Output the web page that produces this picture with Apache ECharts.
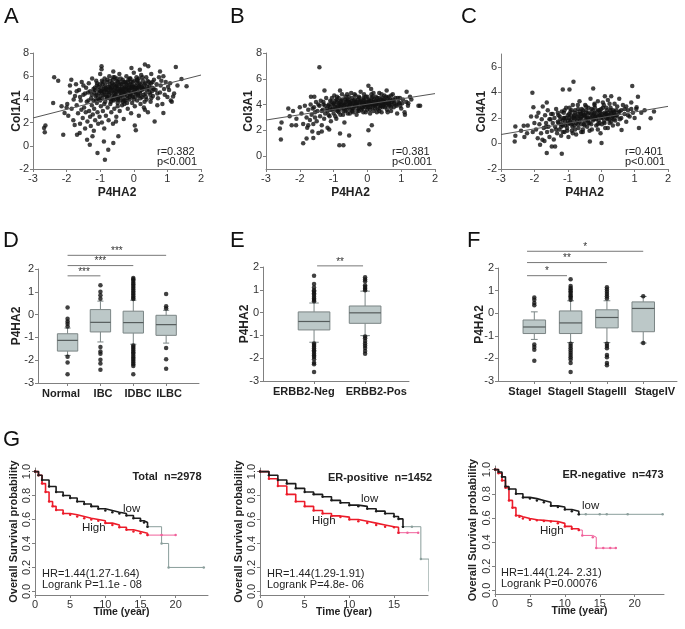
<!DOCTYPE html>
<html><head><meta charset="utf-8">
<script src="https://cdn.jsdelivr.net/npm/echarts@6/dist/echarts.min.js"></script>
<style>html,body{margin:0;padding:0;background:#fff}#c{width:685px;height:629px}</style>
</head><body><div id="c"></div>
<script>
// ---------------- DATA ----------------
const scatterA = [[-2.67,1.53],[-2.63,1.74],[-2.65,1.16],[-2.4,3.7],[-2.37,5.9],[-2.25,5.6],[-2.15,3.4],[-2.1,0.96],[-2.06,2.83],[-1.98,3.6],[-2.0,3.3],[-1.9,5.2],[-1.86,5.7],[-1.79,4.0],[-1.76,1.8],[-1.69,0.96],[-1.61,1.1],[-1.56,3.1],[-1.39,0.53],[-1.31,0.1],[-1.23,0.82],[-1.08,-0.62],[-0.89,0.38],[-0.86,-1.2],[-0.76,-0.33],[-0.61,0.24],[-0.46,0.82],[-0.53,2.1],[0.03,1.74],[0.06,1.33],[0.33,3.1],[0.88,2.83],[1.17,4.26],[1.13,3.8],[1.25,6.8],[1.42,5.76],[1.57,5.13],[1.08,5.4],[0.88,6.0],[0.78,6.4],[0.33,7.0],[0.43,6.85],[0.18,6.56],[-0.07,6.7],[-0.96,6.85],[-0.96,6.6],[-0.61,6.4],
[-1.95,2.6],[-1.9,4.6],[-1.85,3.2],[-1.8,2.2],[-1.75,4.3],[-1.72,5.3],[-1.7,3.5],[-1.66,2.8],[-1.63,4.8],[-1.6,1.9],[-1.58,3.9],[-1.55,5.5],[-1.52,2.4],[-1.5,4.4],[-1.48,3.3],[-1.45,1.5],[-1.43,2.9],[-1.42,5.0],[-1.4,3.8],[-1.38,2.1],[-1.36,4.6],[-1.34,5.4],[-1.33,3.0],[-1.3,2.5],[-1.28,1.7],[-1.27,4.1],[-1.25,3.5],[-1.24,5.8],[-1.22,2.7],[-1.2,4.9],[-1.19,1.3],[-1.18,3.2],[-1.15,2.2],[-1.14,4.3],[-1.12,5.6],[-1.1,3.7],[-1.08,2.9],[-1.06,1.9],[-1.05,5.1],[-1.03,4.0],[-1.02,2.5],[-1.0,6.2],[-0.98,3.4],[-0.97,4.7],[-0.95,2.0],[-0.93,5.3],[-0.92,3.0],[-0.9,4.4],[-0.88,1.5],[-0.87,5.8],[-0.85,3.8],[-0.83,2.6],[-0.82,4.9],[-0.8,5.5],[-0.78,3.3],[-0.77,4.2],[-0.75,2.2],[-0.73,6.0],[-0.72,5.0],[-0.7,3.6],[-0.68,4.6],[-0.67,2.9],[-0.65,5.4],[-0.63,4.0],[-0.62,1.9],[-0.6,4.8],[-0.58,3.2],[-0.57,5.9],[-0.55,4.4],[-0.53,5.1],[-0.52,2.5],[-0.5,4.7],[-0.48,3.7],[-0.47,5.5],[-0.45,4.2],[-0.43,6.2],[-0.42,3.0],[-0.4,4.9],[-0.38,5.3],[-0.37,4.5],[-0.35,3.5],[-0.33,5.7],[-0.32,4.1],[-0.3,2.3],[-0.28,5.0],[-0.27,4.6],[-0.25,3.9],[-0.23,5.4],[-0.22,6.0],[-0.2,4.3],[-0.18,3.2],[-0.17,4.8],[-0.15,5.2],[-0.13,4.0],[-0.12,5.8],[-0.1,4.5],[-0.08,2.8],[-0.07,5.0],[-0.05,3.7],[-0.03,5.5],[-0.02,4.2],[0.0,6.3],[0.02,4.8],[0.03,3.4],[0.05,5.2],[0.07,4.5],[0.08,5.9],[0.1,3.9],[0.12,5.0],[0.13,4.4],[0.15,2.6],[0.17,5.4],[0.18,4.7],[0.2,3.6],[0.22,6.1],[0.23,5.1],[0.25,4.2],[0.27,5.6],[0.28,4.9],[0.3,3.3],[0.32,5.3],[0.35,4.5],[0.37,5.9],[0.38,4.0],[0.4,5.1],[0.42,2.9],[0.45,5.5],[0.47,4.6],[0.5,3.8],[0.52,6.2],[0.55,5.0],[0.57,4.3],[0.6,5.7],[0.62,2.1],[0.65,4.8],[0.68,5.3],[0.7,3.5],[0.72,4.1],[0.75,5.9],[0.78,4.6],[0.8,5.2],[0.85,3.6],[0.9,4.9],[0.95,5.5],[1.0,4.2],[1.05,4.8],[1.1,3.9],[1.2,4.5],[1.3,5.2],
[-0.9,4.9],[-0.85,5.2],[-0.8,4.6],[-0.75,5.1],[-0.7,4.9],[-0.65,4.3],[-0.6,5.3],[-0.55,4.7],[-0.5,5.2],[-0.45,4.6],[-0.4,4.3],[-0.35,5.0],[-0.3,4.7],[-0.25,5.1],[-0.2,4.9],[-0.15,4.6],[-0.1,5.3],[-0.05,4.8],[0.0,5.1],[0.05,4.6],[0.1,5.4],[-0.62,5.7],[-0.52,4.0],[-0.42,5.5],[-0.32,3.8],[-0.12,4.2],[0.15,5.8],[0.25,5.0],[-1.05,4.5],[-1.15,4.8],[-0.95,5.6],[-1.0,3.9],[-1.25,4.4],[-1.1,5.2],[-0.58,4.5],[-0.48,4.1],[-0.38,4.8],[-0.28,4.4],[-0.18,5.5],[-0.08,5.0],
[-1.18,4.6],[-1.16,5.0],[-1.13,3.9],[-1.11,4.4],[-1.09,5.4],[-1.07,4.1],[-1.04,4.8],[-1.01,5.3],[-0.99,4.3],[-0.96,5.0],[-0.94,4.1],[-0.91,5.5],[-0.89,4.7],[-0.86,4.4],[-0.84,5.0],[-0.81,4.2],[-0.79,5.7],[-0.76,4.8],[-0.74,4.4],[-0.71,5.3],[-0.69,4.0],[-0.66,5.0],[-0.64,4.7],[-0.61,5.9],[-0.59,4.2],[-0.56,5.0],[-0.54,4.4],[-0.51,5.6],[-0.49,4.9],[-0.46,4.0],[-0.44,5.2],[-0.41,4.7],[-0.39,5.8],[-0.36,4.4],[-0.34,5.3],[-0.31,4.9],[-0.29,3.9],[-0.26,5.5],[-0.24,4.5],[-0.21,5.2],[-0.19,4.1],[-0.16,5.7],[-0.14,4.8],[-0.11,4.4],[-0.09,5.5],[-0.06,4.3],[-0.04,5.1],[-0.01,4.6],[0.01,5.6],[0.04,4.2],[0.06,5.0],[0.09,4.8],[0.11,5.6],[0.14,4.3],[0.16,5.1],[0.19,4.5],[0.21,5.3],[0.24,4.8],[0.26,5.9],[0.29,4.4],[0.31,5.0],[0.34,5.4],[0.36,4.2],[0.39,4.8],[0.41,5.6],[0.44,4.9],[0.46,5.2],[0.49,4.4],[0.51,5.4],[0.54,4.7],[0.56,5.5],[0.59,4.9],[-0.95,4.6],[-0.85,4.8],[-0.75,4.6],[-0.65,5.1],[-0.55,5.3],[-0.45,4.9],[-0.35,4.7],[-0.25,4.8],[-0.15,5.0],[-0.05,5.2],[0.05,4.9],[0.15,5.1],[-0.7,5.6],[-0.5,5.8],[-0.3,5.5],[-0.1,5.8],[0.1,5.7],[-0.8,4.1],[-0.6,3.9],[-0.4,3.9],[-0.2,3.7],[0.0,4.0],[0.2,4.1],[-1.2,3.9],[-1.0,4.7],[-0.88,3.6],[-0.68,3.8],[-0.48,3.4],[-0.28,3.6],[0.32,3.8],[0.52,4.1],[0.7,4.5],[0.82,5.6],[0.92,4.4],[1.02,5.1],[-1.3,4.7],[-1.35,3.9],[-1.45,4.5],[-1.5,5.2],[-1.6,4.2],[-1.7,4.7]];
const fitA = [[-3,2.4],[2,6.1]];

const scatterB = [[-1.42,6.9],[-2.56,1.28],[-2.59,2.14],[-2.54,2.6],[-2.34,3.7],[-2.24,2.4],[-2.11,2.4],[-1.9,1.0],[-1.8,1.36],[-1.75,2.4],[-1.63,1.9],[-1.6,1.4],[-1.67,4.6],[-1.57,4.6],[-1.27,5.1],[-1.35,1.9],[-1.13,2.06],[-0.81,1.75],[-0.83,0.84],[-0.71,0.84],[-0.54,1.6],[-0.81,5.1],[0.03,5.45],[0.11,5.2],[0.06,0.92],[0.03,2.0],[0.13,2.4],[0.57,5.1],[1.11,3.2],[1.21,4.1],[1.26,4.6],[1.51,3.9],[1.56,3.9],[1.16,5.0],[0.96,4.5],
[-2.3,3.1],[-2.2,3.5],[-2.1,2.9],[-2.0,3.8],[-1.95,3.3],[-1.9,2.5],[-1.85,3.9],[-1.8,3.0],[-1.78,2.2],[-1.75,3.6],[-1.7,2.8],[-1.68,4.0],[-1.65,3.2],[-1.6,2.5],[-1.58,3.8],[-1.55,3.0],[-1.52,4.2],[-1.5,2.7],[-1.48,3.5],[-1.45,1.8],[-1.42,3.9],[-1.4,3.1],[-1.38,4.3],[-1.35,2.4],[-1.32,3.6],[-1.3,4.0],[-1.28,2.9],[-1.25,3.3],[-1.22,4.5],[-1.2,3.7],[-1.18,2.2],[-1.15,3.9],[-1.12,3.1],[-1.1,4.3],[-1.08,2.7],[-1.05,3.6],[-1.02,4.0],[-1.0,3.3],[-0.98,4.7],[-0.95,3.8],[-0.92,2.9],[-0.9,4.2],[-0.88,3.5],[-0.85,4.5],[-0.82,3.9],[-0.8,3.2],[-0.78,4.3],[-0.75,4.8],[-0.72,3.7],[-0.7,4.1],[-0.68,2.6],[-0.65,4.4],[-0.62,3.8],[-0.6,4.0],[-0.58,3.3],[-0.55,4.6],[-0.52,4.2],[-0.5,3.6],[-0.48,4.9],[-0.45,4.0],[-0.42,3.4],[-0.4,4.3],[-0.38,3.9],[-0.35,4.7],[-0.32,4.1],[-0.3,3.5],[-0.28,4.4],[-0.25,3.8],[-0.22,4.2],[-0.2,5.0],[-0.18,3.6],[-0.15,4.0],[-0.12,4.5],[-0.1,3.9],[-0.08,4.3],[-0.05,3.4],[-0.02,4.1],[0.0,4.6],[0.02,3.8],[0.05,4.3],[0.08,3.6],[0.1,4.0],[0.12,4.8],[0.15,4.2],[0.18,3.5],[0.2,4.4],[0.22,3.9],[0.25,4.6],[0.28,4.1],[0.3,3.7],[0.32,4.3],[0.35,4.9],[0.38,3.9],[0.4,4.2],[0.42,3.4],[0.45,4.5],[0.48,4.0],[0.5,4.7],[0.52,3.8],[0.55,4.3],[0.58,3.6],[0.6,4.1],[0.63,4.6],[0.65,3.9],[0.68,4.4],[0.7,3.5],[0.72,4.2],[0.75,4.8],[0.78,3.8],[0.8,4.3],[0.85,4.0],[0.88,3.3],[0.9,4.5],[0.95,4.1],[1.0,3.7],[1.05,4.4],[1.1,3.4],[1.15,4.2],[1.2,3.9],[1.3,4.4],
[-0.9,3.8],[-0.8,4.0],[-0.7,3.9],[-0.6,4.3],[-0.5,4.1],[-0.4,3.7],[-0.3,4.0],[-0.2,4.3],[-0.1,4.1],[0.0,3.9],[0.1,4.3],[0.2,4.0],[0.3,4.2],[0.4,3.9],[0.5,4.2],[-0.65,3.5],[-0.45,4.5],[-0.25,3.5],[-0.05,4.6],[0.15,3.8],[0.35,4.5],[-1.0,4.1],[-1.1,3.8],[-0.85,4.1],[-0.55,3.9],[-0.35,4.2],[-0.15,3.8],[0.05,4.0],[0.25,4.3],[0.45,3.8],
[-1.18,3.5],[-1.14,4.0],[-1.1,3.6],[-1.06,4.2],[-1.02,3.7],[-0.98,4.0],[-0.94,3.6],[-0.91,4.4],[-0.87,3.9],[-0.84,3.6],[-0.8,4.2],[-0.77,3.8],[-0.74,4.4],[-0.71,3.5],[-0.67,4.0],[-0.64,4.2],[-0.61,3.6],[-0.57,4.4],[-0.54,3.8],[-0.51,4.0],[-0.47,4.3],[-0.44,3.7],[-0.41,4.1],[-0.37,4.4],[-0.34,3.9],[-0.31,4.2],[-0.27,3.7],[-0.24,4.5],[-0.21,4.0],[-0.17,4.2],[-0.14,3.7],[-0.11,4.4],[-0.07,4.0],[-0.04,4.2],[-0.01,3.6],[0.03,4.4],[0.06,4.1],[0.09,3.8],[0.13,4.5],[0.16,4.0],[0.19,4.2],[0.23,3.7],[0.26,4.0],[0.29,4.5],[0.33,4.0],[0.36,3.7],[0.39,4.4],[0.43,4.1],[0.46,3.9],[0.49,4.4],[0.53,4.1],[0.56,3.9],[0.59,4.5],[0.63,4.1],[0.66,4.3],[0.69,3.8],[0.73,4.0],[0.76,4.4],[0.79,4.1],[0.83,4.5],[0.86,3.9],[0.92,4.2],[0.97,3.9],[1.03,4.1],[-0.95,4.3],[-0.75,4.0],[-0.55,4.2],[-0.35,4.0],[-0.15,4.1],[0.05,4.2],[0.25,4.0],[0.45,4.3],[0.65,4.0],[-0.85,3.4],[-0.65,4.6],[-0.45,3.5],[-0.25,4.6],[-0.05,3.8],[0.15,4.6],[0.35,3.5],[0.55,4.6],[-1.25,3.9],[-1.35,3.5],[-1.45,4.0],[-1.15,3.2],[-0.95,3.1],[-0.72,3.2],[-0.52,3.3],[-0.32,3.2],[-0.12,3.4],[0.08,3.3],[0.28,3.4],[0.6,3.4],[-0.9,4.6],[-0.6,4.8],[-0.38,4.8],[-0.1,4.8],[0.18,4.9],[0.42,4.8],[0.7,4.7],[-1.05,4.5],[-1.3,4.2],[-1.55,3.4],[-1.62,3.7]];
const fitB = [[-3,2.8],[2,4.85]];

const scatterC = [[-2.59,0.16],[-2.57,1.32],[-2.57,0.6],[-2.32,1.38],[-2.22,0.8],[-2.06,3.97],[-2.03,2.83],[-1.93,2.1],[-1.83,-0.1],[-1.76,0.29],[-1.63,-0.75],[-1.63,3.2],[-1.48,-0.23],[-1.38,-0.23],[-1.18,-0.8],[-1.15,4.23],[-0.95,4.23],[-0.83,4.83],[-0.24,4.3],[0.11,3.7],[0.54,3.5],[0.93,4.5],[1.1,3.66],[1.13,1.2],[1.48,1.97],[1.58,2.5],[1.06,2.83],[-0.34,0.16],[0.01,0.03],[0.61,1.06],
[-2.4,1.0],[-2.3,0.5],[-2.2,1.4],[-2.1,2.1],[-2.05,0.9],[-2.0,1.6],[-1.95,1.1],[-1.9,0.4],[-1.88,2.4],[-1.85,1.5],[-1.8,0.8],[-1.78,1.9],[-1.75,2.9],[-1.72,1.2],[-1.7,0.2],[-1.68,2.2],[-1.65,1.6],[-1.62,0.9],[-1.6,2.6],[-1.58,1.3],[-1.55,0.5],[-1.52,1.9],[-1.5,2.3],[-1.48,1.0],[-1.45,1.6],[-1.42,0.3],[-1.4,2.0],[-1.38,1.3],[-1.35,2.7],[-1.32,0.8],[-1.3,1.7],[-1.28,2.2],[-1.25,1.1],[-1.22,1.9],[-1.2,0.6],[-1.18,2.5],[-1.15,1.4],[-1.12,2.0],[-1.1,0.9],[-1.08,1.7],[-1.05,2.8],[-1.02,1.2],[-1.0,2.2],[-0.98,0.5],[-0.95,1.6],[-0.92,2.5],[-0.9,1.9],[-0.88,1.0],[-0.85,3.0],[-0.82,2.1],[-0.8,1.4],[-0.78,2.6],[-0.75,0.7],[-0.72,1.8],[-0.7,2.3],[-0.68,1.2],[-0.65,3.3],[-0.62,2.0],[-0.6,1.5],[-0.58,2.7],[-0.55,0.9],[-0.52,2.2],[-0.5,1.7],[-0.48,3.0],[-0.45,2.4],[-0.42,1.3],[-0.4,2.0],[-0.38,2.8],[-0.35,1.6],[-0.32,3.5],[-0.3,2.3],[-0.28,1.1],[-0.25,2.6],[-0.22,1.9],[-0.2,3.1],[-0.18,2.1],[-0.15,1.4],[-0.12,2.5],[-0.1,3.3],[-0.08,1.8],[-0.05,2.2],[-0.02,0.8],[0.0,2.7],[0.02,1.5],[0.05,2.0],[0.08,3.0],[0.1,2.4],[0.12,1.2],[0.15,2.8],[0.18,1.9],[0.2,3.4],[0.22,2.2],[0.25,1.6],[0.28,2.6],[0.3,3.7],[0.32,2.0],[0.35,1.4],[0.38,2.4],[0.4,3.1],[0.42,1.8],[0.45,2.2],[0.48,2.9],[0.5,1.5],[0.55,2.5],[0.6,2.0],[0.65,3.0],[0.7,2.3],[0.75,1.7],[0.8,2.6],[0.85,2.1],[0.9,3.2],[0.95,2.4],[1.0,2.0],[1.05,2.7],[1.2,2.4],[1.3,2.6],
[-1.0,1.8],[-0.9,2.2],[-0.8,1.9],[-0.7,2.0],[-0.6,2.3],[-0.5,2.1],[-0.4,1.8],[-0.3,2.0],[-0.2,2.4],[-0.1,2.1],[0.0,2.0],[0.1,2.2],[0.2,2.0],[0.3,2.4],[-0.85,1.6],[-0.65,2.5],[-0.45,1.9],[-0.25,2.2],[-0.05,2.6],[0.15,2.3],[0.35,2.1],[-1.2,1.5],[-1.1,2.0],[-0.95,2.0],[-0.55,2.4],
[-1.28,1.6],[-1.24,2.1],[-1.2,1.3],[-1.16,1.8],[-1.12,2.4],[-1.08,1.4],[-1.04,2.0],[-1.0,1.5],[-0.96,2.3],[-0.93,1.7],[-0.89,2.6],[-0.86,1.3],[-0.82,2.0],[-0.79,2.4],[-0.75,1.6],[-0.72,2.1],[-0.69,2.7],[-0.65,1.7],[-0.62,2.3],[-0.59,1.9],[-0.55,2.6],[-0.52,1.5],[-0.49,2.2],[-0.45,2.6],[-0.42,2.0],[-0.39,1.6],[-0.35,2.4],[-0.32,2.0],[-0.29,2.7],[-0.25,1.8],[-0.22,2.3],[-0.19,2.8],[-0.15,1.9],[-0.12,2.2],[-0.09,2.6],[-0.05,1.6],[-0.02,2.4],[0.01,2.1],[0.05,2.8],[0.08,1.7],[0.11,2.3],[0.15,2.0],[0.18,2.6],[0.21,2.2],[0.25,1.9],[0.28,2.8],[0.31,2.3],[0.35,2.6],[0.38,1.9],[0.41,2.2],[0.45,2.6],[0.48,2.1],[0.52,2.4],[0.56,1.9],[0.6,2.6],[-0.9,1.5],[-0.7,1.5],[-0.5,1.4],[-0.3,1.5],[-0.1,1.5],[0.1,1.6],[0.3,1.7],[-0.8,2.2],[-0.6,2.1],[-0.4,2.3],[-0.2,2.0],[0.0,2.3],[0.2,2.4],[0.4,2.5],[-1.1,2.6],[-0.95,2.8],[-0.7,3.0],[-0.45,2.9],[-0.2,3.0],[0.05,3.2],[0.25,3.1],[-1.35,1.1],[-1.15,0.9],[-0.85,0.8],[-0.6,0.9],[-0.35,1.0],[-0.1,1.1],[0.2,1.2],[-1.45,2.3],[-1.55,1.9],[-1.3,2.4],[-1.65,1.3],[0.7,2.7],[0.8,2.2],[0.9,2.7],[0.75,2.9],[-0.55,1.1],[-0.78,1.1],[-1.02,1.0]];
const fitC = [[-3,0.7],[2,2.9]];

// Box plots: [whiskerLow, Q1, median, Q3, whiskerHigh]
const catsD = ['Normal','IBC','IDBC','ILBC'];
const boxD = [[-1.79,-1.6,-1.13,-0.84,-0.59],[-1.2,-0.76,-0.34,0.22,0.59],[-1.3,-0.81,-0.35,0.15,0.63],[-1.25,-0.91,-0.44,-0.03,0.19]];
const outD = [[0.31,-0.18,-0.3,-0.4,-0.52,-1.85,-2.1,-2.62],
              [1.29,1.0,0.85,0.7,-1.42,-1.62,-1.72,-1.98,-2.15,-2.42],
              [1.6,1.55,1.48,1.4,1.33,1.25,1.18,1.1,1.02,0.95,0.88,0.8,0.73,0.68,-1.35,-1.42,-1.5,-1.58,-1.65,-1.72,-1.8,-1.88,-1.95,-2.02,-2.1,-2.18,-2.25,-2.62],
              [0.9,0.37,0.27,-1.47,-1.96,-2.37]];
const sigD = [[1,4,2.6,'***'],[1,3,2.15,'***'],[1,2,1.7,'***']];

const catsE = ['ERBB2-Neg','ERBB2-Pos'];
const boxE = [[-1.3,-0.76,-0.39,0.03,0.42],[-1.01,-0.47,-0.01,0.29,0.94]];
const outE = [[1.62,1.25,1.1,0.98,0.92,0.85,0.78,0.7,0.62,0.55,0.5,-1.35,-1.42,-1.5,-1.58,-1.65,-1.72,-1.8,-1.88,-1.95,-2.05,-2.2,-2.27,-2.6],
              [1.55,1.45,1.38,1.2,1.12,1.05,0.98,-1.05,-1.12,-1.25,-1.35,-1.45,-1.55,-1.68,-1.8]];
const sigE = [[1.06,1.96,2.05,'**']];

const catsF = ['StageI','StageII','StageIII','StageIV'];
const boxF = [[-1.16,-0.9,-0.61,-0.3,0.06],[-1.3,-0.9,-0.43,0.1,0.55],[-1.3,-0.65,-0.19,0.15,0.55],[-1.32,-0.82,0.21,0.5,0.74]];
const outF = [[0.7,0.6,0.45,0.35,-1.38,-1.5,-1.62,-2.1],
              [1.5,1.2,1.12,1.05,0.97,0.9,0.82,0.75,0.68,0.6,-1.35,-1.45,-1.55,-1.65,-1.75,-1.85,-1.95,-2.05,-2.2,-2.6],
              [1.15,1.05,0.95,0.85,0.75,0.65,-1.35,-1.45,-1.55,-1.85,-1.95,-2.2,-2.3],
              [0.75,-1.32]];
const sigF = [[0.8,4,2.74,'*'],[0.8,3,2.24,'**'],[0.8,1.9,1.66,'*']];

// Kaplan-Meier curves [time (year), survival]
const g1Low  = [[0,1],[0.5,0.97],[1,0.93],[2,0.875],[3,0.83],[4,0.8],[5,0.78],[6,0.75],[7,0.73],[8,0.71],[9,0.69],[10,0.675],[11,0.66],[12,0.65],[13,0.633],[14,0.61],[15,0.59],[15.5,0.575],[16,0.54]];
const g1LowTail = [[16,0.54],[18,0.4],[19,0.2],[24,0.2]];
const g1High = [[0,1],[0.5,0.97],[1,0.9],[1.5,0.83],[2,0.75],[2.5,0.71],[3,0.68],[4,0.65],[5,0.64],[6,0.625],[7,0.61],[8,0.6],[9,0.59],[10,0.57],[11,0.555],[12,0.535],[13,0.515],[14,0.5],[15,0.486],[16,0.47]];
const g1HighTail = [[16,0.47],[18,0.47],[20,0.47]];
const g2Low  = [[0,1],[1,0.97],[2,0.93],[3,0.9],[4,0.86],[5,0.83],[6,0.81],[7,0.79],[8,0.76],[9,0.74],[10,0.72],[11,0.71],[12,0.69],[13,0.67],[14,0.65],[15,0.625],[15.5,0.605],[16,0.54]];
const g2LowTail = [[16,0.54],[17,0.54],[18,0.27],[18.9,0]];
const g2High = [[0,1],[1,0.94],[2,0.88],[3,0.81],[4,0.75],[5,0.71],[6,0.675],[7,0.65],[8,0.63],[9,0.62],[10,0.6],[11,0.585],[12,0.57],[13,0.555],[14,0.54],[15,0.535],[15.5,0.49]];
const g2HighTail = [[15.5,0.49],[16.5,0.49],[17.7,0.49]];
const g3Low  = [[0,1],[0.5,0.98],[1,0.94],[1.5,0.86],[2,0.84],[3,0.8],[4,0.77],[5,0.76],[6,0.745],[7,0.73],[8,0.7],[9,0.69],[10,0.67],[11,0.655],[12,0.63]];
const g3LowTail = [[12,0.63],[13,0.63],[15,0.63],[16,0.63],[19,0.63],[24,0.63]];
const g3High = [[0,1],[0.5,0.97],[1,0.91],[1.5,0.85],[2,0.745],[2.5,0.685],[3,0.62],[3.5,0.61],[4,0.595],[5,0.585],[6,0.58],[7,0.575],[8,0.57],[9,0.555],[10,0.53],[11,0.51],[12,0.5]];
const g3HighTail = [[12,0.5],[12.5,0.455],[14,0.44],[14.5,0.35],[15.5,0.35],[16.5,0.35],[17.3,0.35]];

const gTitles = ['Total  n=2978','ER-positive  n=1452','ER-negative  n=473'];
const gHR = ['HR=1.44(1.27-1.64)','HR=1.44(1.29-1.91)','HR=1.44(1.24- 2.31)'];
const gP = ['Logrank P=1.1e - 08','Logrank P=4.8e- 06','Logrank P=0.00076'];
const corrText = [['r=0.382','p<0.001'],['r=0.381','p<0.001'],['r=0.401','p<0.001']];

// ---------------- CHART ----------------
const FONT = '"Liberation Sans", Arial, Helvetica, sans-serif';
const AX = '#808080';
function merge(a,b){ for(const k in b){ const v=b[k]; if(v && typeof v==='object' && !Array.isArray(v) && a[k] && typeof a[k]==='object' && !Array.isArray(a[k])) merge(a[k],v); else a[k]=v; } return a; }
function vAxis(grid, o){
  return merge({type:'value', gridIndex:grid, splitLine:{show:false}, scale:false,
    axisLine:{show:true,onZero:false,lineStyle:{color:AX,width:1}},
    axisTick:{show:true,length:3,lineStyle:{color:AX}},
    axisLabel:{fontSize:11,color:'#333',fontFamily:FONT,margin:4},
    nameLocation:'middle', nameMoveOverlap:false,
    nameTextStyle:{fontSize:12,fontWeight:'bold',color:'#222',fontFamily:FONT}}, o);
}
const grids = [
  {left:33,top:53,width:168,height:116},
  {left:266,top:53,width:169,height:116},
  {left:501,top:54,width:167,height:115},
  {left:38,top:269,width:161,height:114},
  {left:263,top:267,width:146,height:114},
  {left:498,top:268,width:179,height:113},
  {left:35,top:468,width:173,height:127},
  {left:260,top:468,width:168,height:127},
  {left:495,top:466,width:169,height:128}
];
function catFormatter(cats, pos){ return function(v){ let best=0,bd=1e9; pos.forEach((p,i)=>{const d=Math.abs(p-v); if(d<bd){bd=d;best=i;}}); return cats[best]; }; }

const dLabelPos=[0.8,2.08,3.14,4.09], fLabelPos=[0.74,1.87,3.0,4.32], eLabelPos=[0.8,2.22];
const catLbl = {fontWeight:'bold',fontSize:11,color:'#222',margin:5,hideOverlap:false};
const xAxes = [
  vAxis(0,{min:-3,max:2,interval:1,name:'P4HA2',nameGap:18}),
  vAxis(1,{min:-3,max:2,interval:1,name:'P4HA2',nameGap:18}),
  vAxis(2,{min:-3,max:2,interval:1,name:'P4HA2',nameGap:18}),
  vAxis(3,{min:0.1,max:5,axisTick:{customValues:[1,2,3,4]},axisLabel:merge({customValues:dLabelPos,formatter:catFormatter(catsD,dLabelPos)},catLbl)}),
  vAxis(4,{min:0,max:2.86,axisTick:{customValues:[1,2]},axisLabel:merge({customValues:eLabelPos,formatter:catFormatter(catsE,eLabelPos)},catLbl)}),
  vAxis(5,{min:0,max:4.93,axisTick:{customValues:[1,2,3,4]},axisLabel:merge({customValues:fLabelPos,formatter:catFormatter(catsF,fLabelPos)},catLbl)}),
  vAxis(6,{min:0,max:24.6,axisTick:{customValues:[0,5,10,15,20]},axisLabel:{customValues:[0,5,10,15,20]},name:'Time (year)',nameGap:12,nameTextStyle:{fontSize:10.5}}),
  vAxis(7,{min:0,max:18.8,axisTick:{customValues:[0,5,10,15]},axisLabel:{customValues:[0,5,10,15]},name:'Time (year)',nameGap:12,nameTextStyle:{fontSize:10.5}}),
  vAxis(8,{min:0,max:24.2,axisTick:{customValues:[0,5,10,15,20]},axisLabel:{customValues:[0,5,10,15,20]},name:'Time (year)',nameGap:12,nameTextStyle:{fontSize:10.5}})
];
const gY = (i,gap)=>vAxis(i,{min:-0.03,max:1.03,axisTick:{customValues:[0,0.2,0.4,0.6,0.8,1]},axisLabel:{customValues:[0,0.2,0.4,0.6,0.8,1],rotate:90,formatter:v=>v.toFixed(1),margin:3},name:'Overall Survival probability',nameGap:gap,nameTextStyle:{fontSize:11}});
const yAxes = [
  vAxis(0,{min:-2,max:8,interval:2,name:'Col1A1',nameGap:10}),
  vAxis(1,{min:-1,max:8,axisTick:{customValues:[0,2,4,6,8]},axisLabel:{customValues:[0,2,4,6,8]},name:'Col3A1',nameGap:11}),
  vAxis(2,{min:-2,max:7,axisTick:{customValues:[-2,0,2,4,6]},axisLabel:{customValues:[-2,0,2,4,6]},name:'Col4A1',nameGap:13}),
  vAxis(3,{min:-3,max:2,interval:1,name:'P4HA2',nameGap:15}),
  vAxis(4,{min:-3,max:2,interval:1,name:'P4HA2',nameGap:12}),
  vAxis(5,{min:-3,max:2,interval:1,name:'P4HA2',nameGap:12}),
  gY(6,16), gY(7,16), gY(8,17)
];

const series = [];
[[scatterA,fitA],[scatterB,fitB],[scatterC,fitC]].forEach((p,i)=>{
  series.push({type:'scatter',xAxisIndex:i,yAxisIndex:i,data:p[0],symbolSize:4.5,itemStyle:{color:'#111'},silent:true,large:false});
  series.push({type:'line',xAxisIndex:i,yAxisIndex:i,data:p[1],symbol:'none',lineStyle:{color:'#555',width:1},silent:true,z:3});
});
const BOXW = 0.62;
function boxRender(params, api){
  const x=api.value(0);
  const lo=api.coord([x,api.value(1)]), q1=api.coord([x,api.value(2)]), md=api.coord([x,api.value(3)]), q3=api.coord([x,api.value(4)]), hi=api.coord([x,api.value(5)]);
  const w=api.size([BOXW,0])[0], cx=md[0], cw=w*0.3;
  const st={stroke:'#7b8585',lineWidth:1};
  return {type:'group',children:[
    {type:'line',shape:{x1:cx,y1:hi[1],x2:cx,y2:q3[1]},style:st},
    {type:'line',shape:{x1:cx,y1:q1[1],x2:cx,y2:lo[1]},style:st},
    {type:'line',shape:{x1:cx-cw/2,y1:hi[1],x2:cx+cw/2,y2:hi[1]},style:st},
    {type:'line',shape:{x1:cx-cw/2,y1:lo[1],x2:cx+cw/2,y2:lo[1]},style:st},
    {type:'rect',shape:{x:cx-w/2,y:q3[1],width:w,height:q1[1]-q3[1]},style:{fill:'#bcc8c8',stroke:'#7b8585',lineWidth:1}},
    {type:'line',shape:{x1:cx-w/2,y1:md[1],x2:cx+w/2,y2:md[1]},style:{stroke:'#555c5c',lineWidth:1.2}}
  ]};
}
function sigRender(sig){ return function(params, api){
  const a=api.coord([api.value(0),api.value(2)]), b=api.coord([api.value(1),api.value(2)]);
  return {type:'group',children:[
    {type:'line',shape:{x1:a[0],y1:a[1],x2:b[0],y2:b[1]},style:{stroke:'#777',lineWidth:1}},
    {type:'text',x:(a[0]+b[0])/2,y:a[1]+1,style:{text:sig[params.dataIndex][3],textAlign:'center',textVerticalAlign:'bottom',fontSize:10,fontFamily:FONT,fill:'#333'}}
  ]};
}; }
[[boxD,outD,sigD,3],[boxE,outE,sigE,4],[boxF,outF,sigF,5]].forEach(p=>{
  const gi=p[3];
  series.push({type:'custom',xAxisIndex:gi,yAxisIndex:gi,data:p[0].map((b,i)=>[i+1].concat(b)),renderItem:boxRender,encode:{x:0,y:[1,2,3,4,5]},silent:true});
  const pts=[]; p[1].forEach((arr,i)=>arr.forEach(v=>pts.push([i+1,v])));
  series.push({type:'scatter',xAxisIndex:gi,yAxisIndex:gi,data:pts,symbolSize:4.5,itemStyle:{color:'#111'},silent:true,z:4});
  series.push({type:'custom',xAxisIndex:gi,yAxisIndex:gi,data:p[2].map(s=>[s[0],s[1],s[2]]),renderItem:sigRender(p[2]),encode:{x:[0,1],y:2},clip:false,silent:true});
});
const kmSets=[[g1Low,g1LowTail,g1High,g1HighTail],[g2Low,g2LowTail,g2High,g2HighTail],[g3Low,g3LowTail,g3High,g3HighTail]];
kmSets.forEach((s,k)=>{
  const gi=6+k;
  const mk=(d,c,w)=>({type:'line',step:'end',xAxisIndex:gi,yAxisIndex:gi,data:d,showSymbol:true,symbol:'circle',symbolSize:2.5,itemStyle:{color:c},lineStyle:{color:c,width:w},silent:true,animation:false});
  series.push(mk(s[1],'#8a9e9b',1), mk(s[3],'#f0609a',1), mk(s[2],'#ec1c2a',1.6), mk(s[0],'#1c1c1c',1.6));
});

const graphic=[];
const txt=(x,y,t,o)=>graphic.push({type:'text',x:x,y:y,silent:true,style:Object.assign({text:t,fontSize:11,fontFamily:FONT,fill:'#222',textAlign:'left',textVerticalAlign:'middle'},o||{})});
[['A',4,17],['B',230,17],['C',461,17],['D',3,241],['E',230,241],['F',467,241],['G',3,440]].forEach(l=>txt(l[1],l[2],l[0],{fontSize:22,fill:'#111'}));
[157,392,625].forEach((x,i)=>{ txt(x,152,corrText[i][0]); txt(x,162,corrText[i][1]); });
const gPos=[{t:[167,477],low:[123,509],high:[82,528],hr:[42,574]},{t:[380,478],low:[361,499],high:[312,521],hr:[267,574]},{t:[613,475],low:[582,506],high:[540,531],hr:[501,573]}];
gPos.forEach((g,i)=>{
  txt(g.t[0],g.t[1],gTitles[i],{fontWeight:'bold',textAlign:'center'});
  txt(g.low[0],g.low[1],'low',{fontSize:11.5});
  txt(g.high[0],g.high[1],'High',{fontSize:11.5});
  txt(g.hr[0],g.hr[1],gHR[i]);
  txt(g.hr[0],g.hr[1]+11,gP[i]);
});

const chart = echarts.init(document.getElementById('c'), null, {renderer:'canvas'});
chart.setOption({animation:false, backgroundColor:'#fff', grid:grids, xAxis:xAxes, yAxis:yAxes, series:series, graphic:graphic});
</script>
</body></html>
